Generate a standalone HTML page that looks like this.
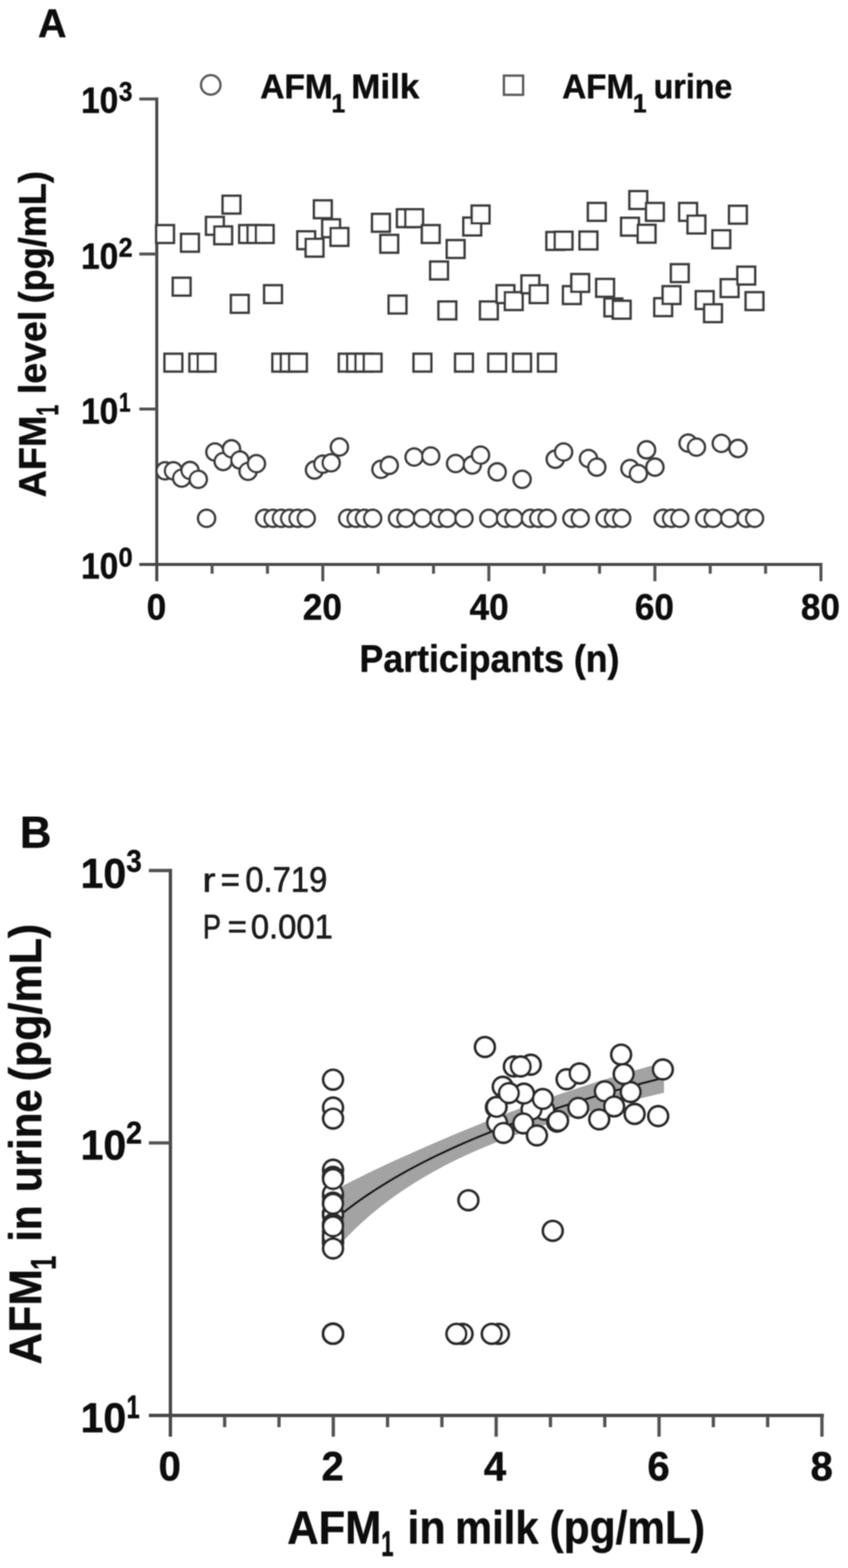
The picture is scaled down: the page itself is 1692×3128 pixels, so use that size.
<!DOCTYPE html>
<html lang="en"><head><meta charset="utf-8"><title>AFM1 levels in milk and urine</title>
<style>html,body{margin:0;padding:0;background:#fff}svg{display:block}text{font-family:"Liberation Sans", sans-serif}</style></head><body>
<svg width="1692" height="3128" viewBox="0 0 1692 3128">
<rect width="1692" height="3128" fill="#fff"/>
<defs><filter id="soft" x="0" y="0" width="1692" height="3128" filterUnits="userSpaceOnUse"><feGaussianBlur stdDeviation="1.3"/></filter></defs>
<g filter="url(#soft)">
<g id="panel-a">
<g fill="none" stroke-linecap="butt">
<path d="M312.8 194.4V1159.5" stroke="#464646" stroke-width="6.0"/>
<path d="M278 1125.9H1641.0" stroke="#464646" stroke-width="6.0"/>
<path d="M278 816.0H312.8M278 506.7H312.8M278 197.4H312.8M423.2 1125.9V1144.5M533.7 1125.9V1144.5M644.1 1125.9V1159.5M754.5 1125.9V1144.5M865.0 1125.9V1144.5M975.4 1125.9V1159.5M1085.8 1125.9V1144.5M1196.3 1125.9V1144.5M1306.7 1125.9V1159.5M1417.1 1125.9V1144.5M1527.6 1125.9V1144.5M1638.0 1125.9V1159.5" stroke="#525252" stroke-width="6.0"/>
</g>
<g fill="#fff" stroke="#3e3e3e" stroke-width="5.1">
<rect x="311.7" y="449.2" width="35.3" height="35.3"/>
<rect x="328.3" y="705.8" width="35.3" height="35.3"/>
<rect x="344.8" y="554.2" width="35.3" height="35.3"/>
<rect x="361.4" y="466.7" width="35.3" height="35.3"/>
<rect x="378.0" y="705.8" width="35.3" height="35.3"/>
<rect x="394.5" y="705.8" width="35.3" height="35.3"/>
<rect x="411.1" y="432.9" width="35.3" height="35.3"/>
<rect x="427.7" y="451.8" width="35.3" height="35.3"/>
<rect x="444.2" y="390.6" width="35.3" height="35.3"/>
<rect x="460.8" y="588.5" width="35.3" height="35.3"/>
<rect x="477.4" y="449.2" width="35.3" height="35.3"/>
<rect x="493.9" y="449.2" width="35.3" height="35.3"/>
<rect x="510.5" y="449.2" width="35.3" height="35.3"/>
<rect x="527.1" y="569.1" width="35.3" height="35.3"/>
<rect x="543.6" y="705.8" width="35.3" height="35.3"/>
<rect x="560.2" y="705.8" width="35.3" height="35.3"/>
<rect x="576.8" y="705.8" width="35.3" height="35.3"/>
<rect x="593.3" y="461.6" width="35.3" height="35.3"/>
<rect x="609.9" y="476.5" width="35.3" height="35.3"/>
<rect x="626.5" y="399.8" width="35.3" height="35.3"/>
<rect x="643.0" y="437.7" width="35.3" height="35.3"/>
<rect x="659.6" y="455.0" width="35.3" height="35.3"/>
<rect x="676.1" y="705.8" width="35.3" height="35.3"/>
<rect x="692.7" y="705.8" width="35.3" height="35.3"/>
<rect x="709.3" y="705.8" width="35.3" height="35.3"/>
<rect x="725.8" y="705.8" width="35.3" height="35.3"/>
<rect x="742.4" y="426.8" width="35.3" height="35.3"/>
<rect x="759.0" y="468.7" width="35.3" height="35.3"/>
<rect x="775.5" y="589.9" width="35.3" height="35.3"/>
<rect x="792.1" y="417.6" width="35.3" height="35.3"/>
<rect x="808.7" y="417.6" width="35.3" height="35.3"/>
<rect x="825.2" y="705.8" width="35.3" height="35.3"/>
<rect x="841.8" y="449.2" width="35.3" height="35.3"/>
<rect x="858.4" y="521.9" width="35.3" height="35.3"/>
<rect x="874.9" y="601.6" width="35.3" height="35.3"/>
<rect x="891.5" y="479.1" width="35.3" height="35.3"/>
<rect x="908.1" y="705.8" width="35.3" height="35.3"/>
<rect x="924.6" y="434.2" width="35.3" height="35.3"/>
<rect x="941.2" y="410.2" width="35.3" height="35.3"/>
<rect x="957.8" y="601.6" width="35.3" height="35.3"/>
<rect x="974.3" y="705.8" width="35.3" height="35.3"/>
<rect x="990.9" y="569.1" width="35.3" height="35.3"/>
<rect x="1007.4" y="583.0" width="35.3" height="35.3"/>
<rect x="1024.0" y="705.8" width="35.3" height="35.3"/>
<rect x="1040.6" y="549.6" width="35.3" height="35.3"/>
<rect x="1057.1" y="569.1" width="35.3" height="35.3"/>
<rect x="1073.7" y="705.8" width="35.3" height="35.3"/>
<rect x="1090.3" y="463.0" width="35.3" height="35.3"/>
<rect x="1106.8" y="462.4" width="35.3" height="35.3"/>
<rect x="1123.4" y="571.0" width="35.3" height="35.3"/>
<rect x="1140.0" y="546.8" width="35.3" height="35.3"/>
<rect x="1156.5" y="462.1" width="35.3" height="35.3"/>
<rect x="1173.1" y="405.0" width="35.3" height="35.3"/>
<rect x="1189.7" y="556.6" width="35.3" height="35.3"/>
<rect x="1206.2" y="595.6" width="35.3" height="35.3"/>
<rect x="1222.8" y="600.2" width="35.3" height="35.3"/>
<rect x="1239.4" y="434.6" width="35.3" height="35.3"/>
<rect x="1255.9" y="381.4" width="35.3" height="35.3"/>
<rect x="1272.5" y="448.6" width="35.3" height="35.3"/>
<rect x="1289.0" y="405.0" width="35.3" height="35.3"/>
<rect x="1305.6" y="595.1" width="35.3" height="35.3"/>
<rect x="1322.2" y="571.0" width="35.3" height="35.3"/>
<rect x="1338.7" y="527.2" width="35.3" height="35.3"/>
<rect x="1355.3" y="405.0" width="35.3" height="35.3"/>
<rect x="1371.9" y="430.2" width="35.3" height="35.3"/>
<rect x="1388.4" y="581.0" width="35.3" height="35.3"/>
<rect x="1405.0" y="607.1" width="35.3" height="35.3"/>
<rect x="1421.6" y="459.6" width="35.3" height="35.3"/>
<rect x="1438.1" y="557.1" width="35.3" height="35.3"/>
<rect x="1454.7" y="410.7" width="35.3" height="35.3"/>
<rect x="1471.3" y="532.1" width="35.3" height="35.3"/>
<rect x="1487.8" y="583.0" width="35.3" height="35.3"/>
<circle cx="329.4" cy="939.3" r="17.0"/>
<circle cx="345.9" cy="939.3" r="17.0"/>
<circle cx="362.5" cy="953.8" r="17.0"/>
<circle cx="379.1" cy="938.6" r="17.0"/>
<circle cx="395.6" cy="956.3" r="17.0"/>
<circle cx="412.2" cy="1034.0" r="17.0"/>
<circle cx="428.8" cy="901.8" r="17.0"/>
<circle cx="445.3" cy="920.6" r="17.0"/>
<circle cx="461.9" cy="895.4" r="17.0"/>
<circle cx="478.5" cy="917.6" r="17.0"/>
<circle cx="495.0" cy="940.2" r="17.0"/>
<circle cx="511.6" cy="925.0" r="17.0"/>
<circle cx="528.1" cy="1034.0" r="17.0"/>
<circle cx="544.7" cy="1034.0" r="17.0"/>
<circle cx="561.3" cy="1034.0" r="17.0"/>
<circle cx="577.8" cy="1034.0" r="17.0"/>
<circle cx="594.4" cy="1034.0" r="17.0"/>
<circle cx="611.0" cy="1034.0" r="17.0"/>
<circle cx="627.5" cy="937.6" r="17.0"/>
<circle cx="644.1" cy="926.0" r="17.0"/>
<circle cx="660.7" cy="923.3" r="17.0"/>
<circle cx="677.2" cy="891.7" r="17.0"/>
<circle cx="693.8" cy="1034.0" r="17.0"/>
<circle cx="710.4" cy="1034.0" r="17.0"/>
<circle cx="726.9" cy="1034.0" r="17.0"/>
<circle cx="743.5" cy="1034.0" r="17.0"/>
<circle cx="760.1" cy="936.2" r="17.0"/>
<circle cx="776.6" cy="928.4" r="17.0"/>
<circle cx="793.2" cy="1034.0" r="17.0"/>
<circle cx="809.8" cy="1034.0" r="17.0"/>
<circle cx="826.3" cy="911.8" r="17.0"/>
<circle cx="842.9" cy="1034.0" r="17.0"/>
<circle cx="859.4" cy="909.8" r="17.0"/>
<circle cx="876.0" cy="1034.0" r="17.0"/>
<circle cx="892.6" cy="1034.0" r="17.0"/>
<circle cx="909.1" cy="924.7" r="17.0"/>
<circle cx="925.7" cy="1034.0" r="17.0"/>
<circle cx="942.3" cy="927.6" r="17.0"/>
<circle cx="958.8" cy="908.0" r="17.0"/>
<circle cx="975.4" cy="1034.0" r="17.0"/>
<circle cx="992.0" cy="941.4" r="17.0"/>
<circle cx="1008.5" cy="1034.0" r="17.0"/>
<circle cx="1025.1" cy="1034.0" r="17.0"/>
<circle cx="1041.7" cy="956.3" r="17.0"/>
<circle cx="1058.2" cy="1034.0" r="17.0"/>
<circle cx="1074.8" cy="1034.0" r="17.0"/>
<circle cx="1091.4" cy="1034.0" r="17.0"/>
<circle cx="1107.9" cy="916.1" r="17.0"/>
<circle cx="1124.5" cy="901.7" r="17.0"/>
<circle cx="1141.1" cy="1034.0" r="17.0"/>
<circle cx="1157.6" cy="1034.0" r="17.0"/>
<circle cx="1174.2" cy="914.7" r="17.0"/>
<circle cx="1190.7" cy="931.9" r="17.0"/>
<circle cx="1207.3" cy="1034.0" r="17.0"/>
<circle cx="1223.9" cy="1034.0" r="17.0"/>
<circle cx="1240.4" cy="1034.0" r="17.0"/>
<circle cx="1257.0" cy="934.8" r="17.0"/>
<circle cx="1273.6" cy="944.8" r="17.0"/>
<circle cx="1290.1" cy="897.4" r="17.0"/>
<circle cx="1306.7" cy="931.9" r="17.0"/>
<circle cx="1323.3" cy="1034.0" r="17.0"/>
<circle cx="1339.8" cy="1034.0" r="17.0"/>
<circle cx="1356.4" cy="1034.0" r="17.0"/>
<circle cx="1373.0" cy="884.0" r="17.0"/>
<circle cx="1389.5" cy="892.0" r="17.0"/>
<circle cx="1406.1" cy="1034.0" r="17.0"/>
<circle cx="1422.7" cy="1034.0" r="17.0"/>
<circle cx="1439.2" cy="884.5" r="17.0"/>
<circle cx="1455.8" cy="1034.0" r="17.0"/>
<circle cx="1472.4" cy="894.6" r="17.0"/>
<circle cx="1488.9" cy="1034.0" r="17.0"/>
<circle cx="1505.5" cy="1034.0" r="17.0"/>
</g>
<circle cx="420.5" cy="169.4" r="19.3" fill="#fff" stroke="#5c5c5c" stroke-width="5"/>
<rect x="1005.6" y="151" width="38" height="38" fill="#fff" stroke="#5c5c5c" stroke-width="5"/>
<text font-weight="bold" fill="#0e0e0e" stroke="#0e0e0e" stroke-width="0.9" stroke-linejoin="round"><tspan x="519.13" y="196.00" font-size="68.84" textLength="144.99" lengthAdjust="spacingAndGlyphs">AFM</tspan><tspan x="661.28" y="223.50" font-size="52.17" textLength="27.51" lengthAdjust="spacingAndGlyphs">1</tspan><tspan> </tspan><tspan x="700.76" y="196.00" font-size="68.84" textLength="135.93" lengthAdjust="spacingAndGlyphs">Milk</tspan></text>
<text font-weight="bold" fill="#0e0e0e" stroke="#0e0e0e" stroke-width="0.9" stroke-linejoin="round"><tspan x="1121.64" y="196.00" font-size="68.84" textLength="143.53" lengthAdjust="spacingAndGlyphs">AFM</tspan><tspan x="1262.78" y="223.50" font-size="52.17" textLength="27.51" lengthAdjust="spacingAndGlyphs">1</tspan><tspan> </tspan><tspan x="1304.14" y="196.00" font-size="68.84" textLength="157.09" lengthAdjust="spacingAndGlyphs">urine</tspan></text>
<text font-weight="bold" fill="#0e0e0e" stroke="#0e0e0e" stroke-width="0.9" stroke-linejoin="round"><tspan x="76.04" y="74.00" font-size="78.99" textLength="56.59" lengthAdjust="spacingAndGlyphs">A</tspan></text>
<text font-weight="bold" fill="#0e0e0e" stroke="#0e0e0e" stroke-width="0.9" stroke-linejoin="round"><tspan x="161.65" y="225.00" font-size="72.14" textLength="74.38" lengthAdjust="spacingAndGlyphs">10</tspan><tspan x="237.29" y="201.00" font-size="54.29" textLength="26.97" lengthAdjust="spacingAndGlyphs">3</tspan></text>
<text font-weight="bold" fill="#0e0e0e" stroke="#0e0e0e" stroke-width="0.9" stroke-linejoin="round"><tspan x="161.65" y="535.50" font-size="72.14" textLength="74.38" lengthAdjust="spacingAndGlyphs">10</tspan><tspan x="236.75" y="511.50" font-size="54.29" textLength="27.81" lengthAdjust="spacingAndGlyphs">2</tspan></text>
<text font-weight="bold" fill="#0e0e0e" stroke="#0e0e0e" stroke-width="0.9" stroke-linejoin="round"><tspan x="161.65" y="844.50" font-size="72.14" textLength="74.38" lengthAdjust="spacingAndGlyphs">10</tspan><tspan x="237.27" y="820.50" font-size="54.29" textLength="23.32" lengthAdjust="spacingAndGlyphs">1</tspan></text>
<text font-weight="bold" fill="#0e0e0e" stroke="#0e0e0e" stroke-width="0.9" stroke-linejoin="round"><tspan x="161.65" y="1153.50" font-size="72.14" textLength="74.38" lengthAdjust="spacingAndGlyphs">10</tspan><tspan x="236.48" y="1129.50" font-size="54.29" textLength="28.10" lengthAdjust="spacingAndGlyphs">0</tspan></text>
<text font-weight="bold" fill="#0e0e0e" stroke="#0e0e0e" stroke-width="0.9" stroke-linejoin="round"><tspan x="292.77" y="1236.30" font-size="71.86" textLength="38.93" lengthAdjust="spacingAndGlyphs">0</tspan></text>
<text font-weight="bold" fill="#0e0e0e" stroke="#0e0e0e" stroke-width="0.9" stroke-linejoin="round"><tspan x="604.32" y="1236.30" font-size="71.86" textLength="77.86" lengthAdjust="spacingAndGlyphs">20</tspan></text>
<text font-weight="bold" fill="#0e0e0e" stroke="#0e0e0e" stroke-width="0.9" stroke-linejoin="round"><tspan x="937.03" y="1236.30" font-size="71.86" textLength="77.86" lengthAdjust="spacingAndGlyphs">40</tspan></text>
<text font-weight="bold" fill="#0e0e0e" stroke="#0e0e0e" stroke-width="0.9" stroke-linejoin="round"><tspan x="1266.83" y="1236.30" font-size="71.86" textLength="77.86" lengthAdjust="spacingAndGlyphs">60</tspan></text>
<text font-weight="bold" fill="#0e0e0e" stroke="#0e0e0e" stroke-width="0.9" stroke-linejoin="round"><tspan x="1598.00" y="1236.30" font-size="71.86" textLength="77.86" lengthAdjust="spacingAndGlyphs">80</tspan></text>
<text font-weight="bold" fill="#0e0e0e" stroke="#0e0e0e" stroke-width="0.9" stroke-linejoin="round"><tspan x="717.37" y="1339.50" font-size="75.36" textLength="518.61" lengthAdjust="spacingAndGlyphs">Participants (n)</tspan></text>
<text font-weight="bold" fill="#0e0e0e" transform="translate(90.8,990.4) rotate(-90)" stroke="#0e0e0e" stroke-width="0.9" stroke-linejoin="round"><tspan x="-1.88" y="0.00" font-size="76.52" textLength="163.16" lengthAdjust="spacingAndGlyphs">AFM</tspan><tspan x="161.08" y="25.50" font-size="62.46" textLength="21.53" lengthAdjust="spacingAndGlyphs">1</tspan><tspan> </tspan><tspan x="204.05" y="0.00" font-size="76.52" textLength="166.73" lengthAdjust="spacingAndGlyphs">level</tspan><tspan> </tspan><tspan x="385.10" y="0.00" font-size="76.52" textLength="264.15" lengthAdjust="spacingAndGlyphs">(pg/mL)</tspan></text>
</g>
<g id="panel-b">
<path d="M665.0 2375.6L678.7 2368.3L692.5 2361.2L706.2 2354.2L720.0 2347.4L733.7 2340.6L747.5 2334.0L761.2 2327.5L775.0 2321.1L788.7 2314.8L802.4 2308.5L816.2 2302.4L829.9 2296.3L843.7 2290.2L857.4 2284.2L871.2 2278.3L884.9 2272.4L898.7 2266.6L912.4 2260.8L926.2 2255.1L939.9 2249.5L953.6 2243.9L967.4 2238.3L981.1 2232.9L994.9 2227.5L1008.6 2222.1L1022.4 2216.9L1036.1 2211.7L1049.9 2206.6L1063.6 2201.5L1077.3 2196.6L1091.1 2191.7L1104.8 2186.9L1118.6 2182.1L1132.3 2177.5L1146.1 2172.9L1159.8 2168.4L1173.6 2163.9L1187.3 2159.5L1201.0 2155.2L1214.8 2151.0L1228.5 2146.8L1242.3 2142.7L1256.0 2138.6L1269.8 2134.6L1283.5 2130.7L1297.3 2126.8L1311.0 2123.0L1324.8 2119.2L1324.8 2180.0L1311.0 2183.2L1297.3 2186.4L1283.5 2189.7L1269.8 2193.1L1256.0 2196.5L1242.3 2200.0L1228.5 2203.5L1214.8 2207.1L1201.0 2210.8L1187.3 2214.5L1173.6 2218.3L1159.8 2222.2L1146.1 2226.2L1132.3 2230.3L1118.6 2234.4L1104.8 2238.7L1091.1 2243.0L1077.3 2247.5L1063.6 2252.1L1049.9 2256.8L1036.1 2261.6L1022.4 2266.6L1008.6 2271.7L994.9 2277.0L981.1 2282.4L967.4 2288.1L953.6 2293.9L939.9 2299.9L926.2 2306.2L912.4 2312.8L898.7 2319.6L884.9 2326.6L871.2 2334.0L857.4 2341.7L843.7 2349.7L829.9 2358.0L816.2 2366.7L802.4 2375.8L788.7 2385.3L775.0 2395.3L761.2 2405.8L747.5 2416.8L733.7 2428.4L720.0 2440.7L706.2 2453.7L692.5 2467.5L678.7 2482.3L665.0 2498.1Z" fill="#a3a3a3"/>
<path d="M665.0 2435.0L678.7 2423.8L692.5 2413.1L706.2 2402.8L720.0 2392.9L733.7 2383.5L747.5 2374.4L761.2 2365.7L775.0 2357.2L788.7 2349.1L802.4 2341.2L816.2 2333.6L829.9 2326.2L843.7 2319.0L857.4 2312.1L871.2 2305.3L884.9 2298.8L898.7 2292.4L912.4 2286.2L926.2 2280.1L939.9 2274.2L953.6 2268.4L967.4 2262.8L981.1 2257.3L994.9 2251.9L1008.6 2246.7L1022.4 2241.5L1036.1 2236.5L1049.9 2231.6L1063.6 2226.8L1077.3 2222.0L1091.1 2217.4L1104.8 2212.8L1118.6 2208.4L1132.3 2204.0L1146.1 2199.7L1159.8 2195.5L1173.6 2191.3L1187.3 2187.3L1201.0 2183.3L1214.8 2179.3L1228.5 2175.4L1242.3 2171.6L1256.0 2167.9L1269.8 2164.2L1283.5 2160.5L1297.3 2156.9L1311.0 2153.4L1324.8 2149.9" fill="none" stroke="#0c0c0c" stroke-width="4.6"/>
<g fill="none" stroke-linecap="butt">
<path d="M340.0 1733.3V2866" stroke="#464646" stroke-width="6.6"/>
<path d="M297 2823.6H1643.8" stroke="#464646" stroke-width="6.6"/>
<path d="M297 2280.0H340.0M297 1736.6H340.0M448.3 2824.8V2847M556.7 2824.8V2847M665.0 2824.8V2866M773.3 2824.8V2847M881.7 2824.8V2847M990.0 2824.8V2866M1098.3 2824.8V2847M1206.7 2824.8V2847M1315.0 2824.8V2866M1423.3 2824.8V2847M1531.7 2824.8V2847M1640.0 2824.8V2866" stroke="#525252" stroke-width="6.6"/>
</g>
<g fill="#fff" stroke="#2c2c2c" stroke-width="5.6">
<circle cx="989.5" cy="2209.0" r="19.6"/>
<circle cx="995.4" cy="2660.9" r="19.6"/>
<circle cx="934.6" cy="2394.3" r="19.6"/>
<circle cx="992.0" cy="2240.0" r="19.6"/>
<circle cx="922.9" cy="2660.9" r="19.6"/>
<circle cx="664.5" cy="2660.7" r="19.6"/>
<circle cx="1206.7" cy="2177.0" r="19.6"/>
<circle cx="1086.0" cy="2214.0" r="19.6"/>
<circle cx="1239.3" cy="2103.8" r="19.6"/>
<circle cx="1102.9" cy="2455.3" r="19.6"/>
<circle cx="990.9" cy="2208.2" r="19.6"/>
<circle cx="1060.5" cy="2213.5" r="19.6"/>
<circle cx="664.5" cy="2209.5" r="19.6"/>
<circle cx="664.5" cy="2420.9" r="19.6"/>
<circle cx="664.5" cy="2660.7" r="19.6"/>
<circle cx="664.5" cy="2660.7" r="19.6"/>
<circle cx="664.5" cy="2660.7" r="19.6"/>
<circle cx="664.5" cy="2231.3" r="19.6"/>
<circle cx="1004.5" cy="2260.0" r="19.6"/>
<circle cx="1059.0" cy="2124.0" r="19.6"/>
<circle cx="1083.0" cy="2192.3" r="19.6"/>
<circle cx="1266.2" cy="2222.2" r="19.6"/>
<circle cx="664.5" cy="2660.7" r="19.6"/>
<circle cx="664.5" cy="2660.7" r="19.6"/>
<circle cx="664.5" cy="2660.7" r="19.6"/>
<circle cx="664.5" cy="2660.7" r="19.6"/>
<circle cx="1003.1" cy="2168.0" r="19.6"/>
<circle cx="1044.0" cy="2241.0" r="19.6"/>
<circle cx="664.5" cy="2457.4" r="19.6"/>
<circle cx="664.5" cy="2153.8" r="19.6"/>
<circle cx="1130.5" cy="2153.0" r="19.6"/>
<circle cx="664.5" cy="2660.7" r="19.6"/>
<circle cx="1153.8" cy="2210.0" r="19.6"/>
<circle cx="664.5" cy="2333.5" r="19.6"/>
<circle cx="664.5" cy="2478.2" r="19.6"/>
<circle cx="1071.3" cy="2265.0" r="19.6"/>
<circle cx="664.5" cy="2660.7" r="19.6"/>
<circle cx="1045.4" cy="2181.7" r="19.6"/>
<circle cx="1156.4" cy="2141.4" r="19.6"/>
<circle cx="664.5" cy="2478.2" r="19.6"/>
<circle cx="981.2" cy="2660.9" r="19.6"/>
<circle cx="664.5" cy="2420.9" r="19.6"/>
<circle cx="664.5" cy="2445.3" r="19.6"/>
<circle cx="910.7" cy="2660.9" r="19.6"/>
<circle cx="664.5" cy="2386.6" r="19.6"/>
<circle cx="664.5" cy="2420.9" r="19.6"/>
<circle cx="664.5" cy="2660.7" r="19.6"/>
<circle cx="1111.5" cy="2237.5" r="19.6"/>
<circle cx="1195.6" cy="2233.0" r="19.6"/>
<circle cx="664.5" cy="2424.1" r="19.6"/>
<circle cx="664.5" cy="2381.5" r="19.6"/>
<circle cx="1113.5" cy="2236.0" r="19.6"/>
<circle cx="1025.3" cy="2127.5" r="19.6"/>
<circle cx="664.5" cy="2398.7" r="19.6"/>
<circle cx="664.5" cy="2467.6" r="19.6"/>
<circle cx="664.5" cy="2475.7" r="19.6"/>
<circle cx="1015.3" cy="2180.5" r="19.6"/>
<circle cx="967.5" cy="2088.7" r="19.6"/>
<circle cx="1225.3" cy="2207.2" r="19.6"/>
<circle cx="1039.0" cy="2127.5" r="19.6"/>
<circle cx="664.5" cy="2466.6" r="19.6"/>
<circle cx="664.5" cy="2424.1" r="19.6"/>
<circle cx="664.5" cy="2347.1" r="19.6"/>
<circle cx="1322.5" cy="2133.5" r="19.6"/>
<circle cx="1258.3" cy="2178.5" r="19.6"/>
<circle cx="664.5" cy="2441.7" r="19.6"/>
<circle cx="664.5" cy="2490.5" r="19.6"/>
<circle cx="1313.3" cy="2226.5" r="19.6"/>
<circle cx="664.5" cy="2401.5" r="19.6"/>
<circle cx="1244.4" cy="2142.6" r="19.6"/>
<circle cx="664.5" cy="2352.0" r="19.6"/>
<circle cx="664.5" cy="2446.5" r="19.6"/>
</g>
<text font-weight="bold" fill="#0e0e0e" stroke="#0e0e0e" stroke-width="0.9" stroke-linejoin="round"><tspan x="39.85" y="1691.00" font-size="89.86" textLength="62.75" lengthAdjust="spacingAndGlyphs">B</tspan></text>
<text font-weight="bold" fill="#0e0e0e" stroke="#0e0e0e" stroke-width="0.9" stroke-linejoin="round"><tspan x="160.66" y="1771.00" font-size="84.29" textLength="91.31" lengthAdjust="spacingAndGlyphs">10</tspan><tspan x="252.11" y="1739.00" font-size="62.14" textLength="30.90" lengthAdjust="spacingAndGlyphs">3</tspan></text>
<text font-weight="bold" fill="#0e0e0e" stroke="#0e0e0e" stroke-width="0.9" stroke-linejoin="round"><tspan x="160.66" y="2313.00" font-size="84.29" textLength="91.31" lengthAdjust="spacingAndGlyphs">10</tspan><tspan x="251.49" y="2281.00" font-size="62.14" textLength="31.86" lengthAdjust="spacingAndGlyphs">2</tspan></text>
<text font-weight="bold" fill="#0e0e0e" stroke="#0e0e0e" stroke-width="0.9" stroke-linejoin="round"><tspan x="160.66" y="2856.50" font-size="84.29" textLength="91.31" lengthAdjust="spacingAndGlyphs">10</tspan><tspan x="252.42" y="2829.00" font-size="64.29" textLength="26.31" lengthAdjust="spacingAndGlyphs">1</tspan></text>
<text font-weight="bold" fill="#0e0e0e" stroke="#0e0e0e" stroke-width="0.9" stroke-linejoin="round"><tspan x="316.50" y="2953.00" font-size="81.43" textLength="44.49" lengthAdjust="spacingAndGlyphs">0</tspan></text>
<text font-weight="bold" fill="#0e0e0e" stroke="#0e0e0e" stroke-width="0.9" stroke-linejoin="round"><tspan x="641.40" y="2953.00" font-size="81.43" textLength="44.49" lengthAdjust="spacingAndGlyphs">2</tspan></text>
<text font-weight="bold" fill="#0e0e0e" stroke="#0e0e0e" stroke-width="0.9" stroke-linejoin="round"><tspan x="965.40" y="2953.00" font-size="81.43" textLength="44.49" lengthAdjust="spacingAndGlyphs">4</tspan></text>
<text font-weight="bold" fill="#0e0e0e" stroke="#0e0e0e" stroke-width="0.9" stroke-linejoin="round"><tspan x="1291.80" y="2953.00" font-size="81.43" textLength="44.49" lengthAdjust="spacingAndGlyphs">6</tspan></text>
<text font-weight="bold" fill="#0e0e0e" stroke="#0e0e0e" stroke-width="0.9" stroke-linejoin="round"><tspan x="1617.30" y="2953.00" font-size="81.43" textLength="44.49" lengthAdjust="spacingAndGlyphs">8</tspan></text>
<text font-weight="normal" fill="#1a1a1a" stroke="#1a1a1a" stroke-width="1.2" stroke-linejoin="round"><tspan x="403.93" y="1779.00" font-size="68.87" textLength="25.98" lengthAdjust="spacingAndGlyphs">r</tspan><tspan> </tspan><tspan x="440.20" y="1779.00" font-size="70.71" textLength="38.53" lengthAdjust="spacingAndGlyphs">=</tspan><tspan> </tspan><tspan x="489.38" y="1779.00" font-size="70.71" textLength="163.72" lengthAdjust="spacingAndGlyphs">0.719</tspan></text>
<text font-weight="normal" fill="#1a1a1a" stroke="#1a1a1a" stroke-width="1.2" stroke-linejoin="round"><tspan x="404.66" y="1872.00" font-size="68.12" textLength="36.16" lengthAdjust="spacingAndGlyphs">P</tspan><tspan> </tspan><tspan x="454.20" y="1872.00" font-size="67.86" textLength="38.53" lengthAdjust="spacingAndGlyphs">=</tspan><tspan> </tspan><tspan x="500.38" y="1872.00" font-size="67.86" textLength="163.72" lengthAdjust="spacingAndGlyphs">0.001</tspan></text>
<text font-weight="bold" fill="#0e0e0e" stroke="#0e0e0e" stroke-width="0.9" stroke-linejoin="round"><tspan x="573.34" y="3078.50" font-size="92.03" textLength="187.37" lengthAdjust="spacingAndGlyphs">AFM</tspan><tspan x="760.41" y="3103.80" font-size="70.72" textLength="24.76" lengthAdjust="spacingAndGlyphs">1</tspan><tspan> </tspan><tspan x="813.11" y="3078.50" font-size="92.03" textLength="76.04" lengthAdjust="spacingAndGlyphs">in</tspan><tspan> </tspan><tspan x="908.00" y="3078.50" font-size="92.03" textLength="166.39" lengthAdjust="spacingAndGlyphs">milk</tspan><tspan> </tspan><tspan x="1096.57" y="3078.50" font-size="92.03" textLength="310.21" lengthAdjust="spacingAndGlyphs">(pg/mL)</tspan></text>
<text font-weight="bold" fill="#0e0e0e" transform="translate(81.8,2719.7) rotate(-90)" stroke="#0e0e0e" stroke-width="0.9" stroke-linejoin="round"><tspan x="-2.20" y="0.00" font-size="90.58" textLength="190.19" lengthAdjust="spacingAndGlyphs">AFM</tspan><tspan x="186.53" y="29.50" font-size="70.29" textLength="27.99" lengthAdjust="spacingAndGlyphs">1</tspan><tspan> </tspan><tspan x="242.93" y="0.00" font-size="90.58" textLength="72.04" lengthAdjust="spacingAndGlyphs">in</tspan><tspan> </tspan><tspan x="341.46" y="0.00" font-size="90.58" textLength="205.47" lengthAdjust="spacingAndGlyphs">urine</tspan><tspan> </tspan><tspan x="562.41" y="0.00" font-size="90.58" textLength="314.42" lengthAdjust="spacingAndGlyphs">(pg/mL)</tspan></text>
</g>
</g>
</svg></body></html>
